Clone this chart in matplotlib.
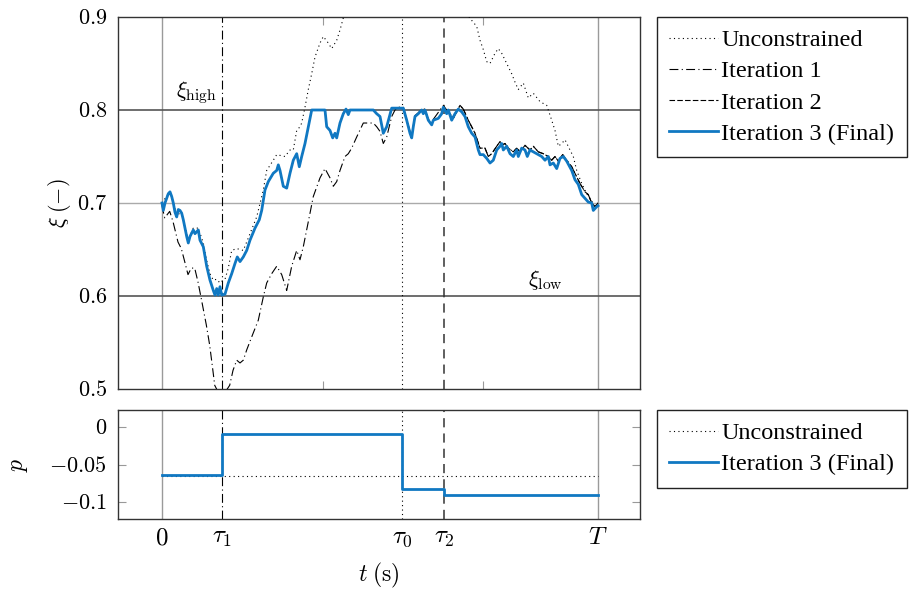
import numpy as np
import matplotlib
matplotlib.use("Agg")
import matplotlib.pyplot as plt
from matplotlib.lines import Line2D

plt.rcParams['font.family'] = ['Liberation Serif', 'DejaVu Serif']
plt.rcParams['mathtext.fontset'] = 'cm'

# ---------------- data ----------------
tau1, tau0, tau2, T = 60.0, 240.0, 282.0, 436.0
xtick_pos = [0.0, tau1, tau0, tau2, T]
xtick_lab = [r'$0$', r'$\tau_1$', r'$\tau_0$', r'$\tau_2$', r'$T$']
xi_low, xi_high = 0.6, 0.8

t_final = np.array([0, 1.3, 3, 6.3, 8, 9.7, 11.3, 13, 14.7, 16.3, 18, 19.7, 21.3, 24.7, 26.3, 28, 31.3, 33, 34.7, 36.3,
                    38, 41.3, 44.7, 48, 51.3, 53, 54.7, 56.3, 58, 59.7, 63, 66.3, 69.7, 73, 75.3, 78, 81.3, 84.7, 88,
                    93, 97.3, 99.7, 103, 106.3, 111.3, 114.7, 116.3, 118, 121.3, 124.7, 128, 131.3, 134.7, 137.3,
                    139.7, 143, 146.3, 149.7, 163, 164.7, 168, 170.7, 173, 174.7, 178, 181.3, 184, 186.3, 188, 211.3,
                    214.7, 218, 221.3, 224.7, 229.7, 241.3, 244.7, 246.3, 248, 249.7, 251.3, 253, 256.3, 259.7, 261.3,
                    263, 266.3, 269.7, 271.3, 276.3, 279.7, 281.3, 284.7, 286.3, 289.7, 293, 296.3, 299.7, 303, 306.3,
                    309.7, 313, 316.3, 318, 321.3, 324.7, 328, 331.3, 334.7, 338, 339.7, 341.3, 344.7, 348, 351.3,
                    354.7, 356.3, 359.7, 363, 365.3, 368, 371.3, 374.7, 379.7, 383, 386.3, 388, 391.3, 394.7, 398,
                    401.3, 404.7, 409.7, 413, 416.3, 419.7, 423, 426.3, 429.7, 431.3, 434.7, 436])
xi_final = np.array([0.700, 0.692, 0.700, 0.710, 0.712, 0.707, 0.700, 0.690, 0.685, 0.693, 0.692, 0.689, 0.682, 0.664,
                     0.657, 0.664, 0.671, 0.667, 0.669, 0.671, 0.660, 0.653, 0.632, 0.617, 0.606, 0.601, 0.608, 0.601,
                     0.610, 0.601, 0.602, 0.614, 0.624, 0.635, 0.642, 0.637, 0.642, 0.649, 0.660, 0.673, 0.682, 0.692,
                     0.714, 0.723, 0.732, 0.735, 0.741, 0.735, 0.718, 0.716, 0.732, 0.746, 0.753, 0.739, 0.750, 0.764,
                     0.782, 0.800, 0.800, 0.782, 0.778, 0.770, 0.775, 0.770, 0.786, 0.796, 0.801, 0.795, 0.800, 0.800,
                     0.796, 0.793, 0.775, 0.782, 0.802, 0.802, 0.789, 0.782, 0.775, 0.770, 0.782, 0.793, 0.796, 0.800,
                     0.796, 0.800, 0.789, 0.784, 0.789, 0.791, 0.796, 0.803, 0.796, 0.800, 0.789, 0.796, 0.801, 0.798,
                     0.793, 0.782, 0.775, 0.771, 0.757, 0.752, 0.752, 0.748, 0.743, 0.746, 0.757, 0.761, 0.764, 0.757,
                     0.761, 0.753, 0.750, 0.757, 0.750, 0.759, 0.757, 0.750, 0.757, 0.755, 0.753, 0.750, 0.746, 0.750,
                     0.741, 0.743, 0.737, 0.748, 0.750, 0.745, 0.735, 0.725, 0.720, 0.709, 0.705, 0.701, 0.700, 0.692,
                     0.696, 0.697])

t_uncon = np.array([0, 6.3, 8, 11.3, 14.7, 19.7, 21.3, 26.3, 31.3, 36.3, 41.3, 44.7, 48, 51.3, 54.7, 58, 60, 63, 66.3,
                    69.7, 74.7, 81.3, 88, 94.7, 101.3, 104.7, 111.3, 114.7, 123, 128, 131.3, 134.7, 138, 139.7, 143,
                    146.3, 149.7, 153, 158, 161.3, 166.3, 169.7, 174.7, 178, 181.3, 188, 208, 238, 268, 293, 310.7,
                    314.7, 318, 321.3, 324.7, 328, 333, 336.3, 339.7, 344.7, 349.7, 353, 356.3, 361.3, 366.3, 371.3,
                    378, 384.7, 386.3, 389.7, 393, 396.3, 399.7, 403, 408, 411.3, 414.7, 419.7, 424.7, 429.7, 433, 436])
xi_uncon = np.array([0.700, 0.710, 0.712, 0.701, 0.687, 0.690, 0.684, 0.660, 0.673, 0.673, 0.657, 0.638, 0.624, 0.617,
                     0.618, 0.614, 0.616, 0.618, 0.630, 0.649, 0.651, 0.649, 0.667, 0.685, 0.714, 0.735, 0.746, 0.752,
                     0.750, 0.757, 0.757, 0.778, 0.782, 0.786, 0.803, 0.822, 0.839, 0.857, 0.872, 0.879, 0.872, 0.866,
                     0.875, 0.886, 0.899, 0.915, 0.935, 0.945, 0.940, 0.920, 0.895, 0.890, 0.875, 0.865, 0.852, 0.850,
                     0.861, 0.866, 0.861, 0.850, 0.839, 0.830, 0.822, 0.829, 0.813, 0.818, 0.809, 0.805, 0.800, 0.789,
                     0.778, 0.761, 0.764, 0.768, 0.757, 0.750, 0.735, 0.721, 0.710, 0.702, 0.697, 0.700])

t_it1 = np.array([0, 1, 2.7, 7.7, 11, 16, 19.3, 22.7, 26, 29.3, 32.7, 36, 39.3, 44.3, 47.7, 51, 52.7, 56, 60, 64, 67.7,
                  71, 74.7, 78, 81.3, 84.7, 89.7, 96.3, 101.3, 104.7, 109.7, 114.7, 119.7, 124.7, 129.7, 134.7, 138,
                  141.3, 148, 151.3, 158, 163, 168, 171.3, 174.7, 178, 183, 186.3, 189.7, 194.7, 201.3, 208, 211.3,
                  214.7, 218, 221.3, 224.7, 229.7, 233,
                  236, 241.3, 244.7, 248, 249.7, 251.3, 253, 256.3, 259.7, 263, 266.3, 269.7, 271.3, 274.7, 281.3,
                  284.7, 288, 291.3, 298, 301.3, 306.3, 309.7, 313, 318, 323, 326.3, 329.7, 334.7, 338, 339.7, 343,
                  346.3, 351.3, 354.7, 358, 363, 368, 371.3, 376.3, 381.3, 386.3, 389.7, 393, 396.3, 400.7, 404.7,
                  409.7, 414.7, 418, 423, 426.3, 429.7, 433, 436])
xi_it1 = np.array([0.698, 0.692, 0.684, 0.691, 0.680, 0.658, 0.651, 0.637, 0.623, 0.630, 0.630, 0.615, 0.597, 0.569,
                   0.547, 0.519, 0.504, 0.497, 0.495, 0.498, 0.504, 0.520, 0.531, 0.528, 0.531, 0.542, 0.556, 0.574,
                   0.599, 0.614, 0.624, 0.632, 0.623, 0.606, 0.632, 0.649, 0.639, 0.653, 0.689, 0.707, 0.727, 0.737,
                   0.727, 0.718, 0.723, 0.735, 0.750, 0.753, 0.759, 0.771, 0.786, 0.786, 0.786, 0.782, 0.777, 0.764,
                   0.771, 0.793, 0.800,
                   0.803, 0.803, 0.790, 0.777, 0.772, 0.783, 0.794, 0.797, 0.801, 0.801, 0.790, 0.786, 0.790, 0.795,
                   0.805, 0.800, 0.796, 0.791, 0.805, 0.801, 0.789, 0.782, 0.775, 0.759, 0.759, 0.750, 0.753, 0.761,
                   0.766, 0.762, 0.764, 0.759, 0.755, 0.759, 0.755, 0.762, 0.757, 0.761, 0.755, 0.753, 0.750, 0.746,
                   0.750, 0.745, 0.752, 0.746, 0.739, 0.728, 0.721, 0.712, 0.709, 0.700, 0.696, 0.700])

t_it2_tail = np.array([284.7, 288, 291.3, 298, 301.3, 306.3, 309.7, 313, 318, 323, 326.3, 329.7, 334.7, 338, 339.7,
                       343, 346.3, 351.3, 354.7, 358, 363, 368, 371.3, 376.3, 381.3, 386.3, 389.7, 393, 396.3, 400.7,
                       404.7, 409.7, 414.7, 418, 423, 426.3, 429.7, 433, 436])
xi_it2_tail = np.array([0.800, 0.796, 0.791, 0.805, 0.801, 0.789, 0.782, 0.775, 0.759, 0.759, 0.750, 0.753, 0.761,
                        0.766, 0.762, 0.764, 0.759, 0.755, 0.759, 0.755, 0.762, 0.757, 0.761, 0.755, 0.753, 0.750,
                        0.746, 0.750, 0.745, 0.752, 0.746, 0.739, 0.728, 0.721, 0.712, 0.709, 0.700, 0.696, 0.700])
# Iteration 2 coincides with the final trajectory up to tau2
t_it2 = np.concatenate([t_final[t_final <= tau2], t_it2_tail])
xi_it2 = np.concatenate([xi_final[t_final <= tau2], xi_it2_tail])

# costate p (piecewise constant)
t_p = [0.0, tau1, tau0, tau2, T]
p_final = [-0.064, -0.009, -0.083, -0.091, -0.091]
p_uncon = -0.066

# ---------------- figure ----------------
W, H = 911, 589
fig = plt.figure(figsize=(W / 100, H / 100), dpi=100)
ax1 = fig.add_axes([118 / W, 1 - 389 / H, 522 / W, 372 / H])
ax2 = fig.add_axes([118 / W, 1 - 519 / H, 522 / W, 109 / H])

blue = '#1078C2'
FS = 16

for ax in (ax1, ax2):
    ax.set_xlim(-44, 478)
    for s in ax.spines.values():
        s.set_color('#333333')
        s.set_linewidth(1.0)
    for xv in (0.0, T):
        ax.axvline(xv, color='#9a9a9a', lw=1.0, zorder=1)
    ax.axvline(tau1, color='black', lw=0.8, ls=(0, (8, 3, 1, 3)), zorder=2)
    ax.axvline(tau0, color='black', lw=0.8, ls=(0, (1, 3)), zorder=2)
    ax.axvline(tau2, color='#333333', lw=1.1, ls=(0, (6, 4)), zorder=2)

# top panel
ax1.set_ylim(0.5, 0.9)
ax1.axhline(0.7, color='#aaaaaa', lw=1.0, zorder=1)
ax1.axhline(xi_low, color='#555555', lw=1.2, zorder=1)
ax1.axhline(xi_high, color='#555555', lw=1.2, zorder=1)
ax1.plot(t_uncon, xi_uncon, color='black', lw=0.8, ls=(0, (1, 3)), zorder=3)
ax1.plot(t_it1, xi_it1, color='black', lw=0.8, ls=(0, (8, 3, 1, 3)), zorder=3)
ax1.plot(t_it2, xi_it2, color='black', lw=0.8, ls=(0, (5, 2)), zorder=3)
ax1.plot(t_final, xi_final, color=blue, lw=2.0, zorder=4)
ax1.set_yticks([0.5, 0.6, 0.7, 0.8, 0.9])
ax1.set_yticklabels([r'$0.5$', r'$0.6$', r'$0.7$', r'$0.8$', r'$0.9$'], fontsize=FS)
ax1.set_xticks([161, 321])
ax1.tick_params(axis='x', which='both', direction='in', top=True, bottom=True, length=6, color='#999999',
                labelbottom=False)
ax1.tick_params(axis='y', direction='in', left=True, right=True, length=0, pad=8)
ax1.set_ylabel(r'$\xi\;(-)$', fontsize=FS)
ax1.yaxis.set_label_coords(-0.086, 0.5)
ax1.text(14, 0.819, r'$\xi_{\mathrm{high}}$', fontsize=FS, va='center', ha='left')
ax1.text(366, 0.617, r'$\xi_{\mathrm{low}}$', fontsize=FS, va='center', ha='left')

# bottom panel
ax2.set_ylim(-0.1235, 0.0235)
ax2.hlines(p_uncon, 0, T, color='black', lw=0.8, linestyles=[(0, (1, 3))], zorder=3)
ax2.step(t_p, p_final, where='post', color=blue, lw=2.0, zorder=4)
ax2.set_yticks([-0.1, -0.05, 0.0])
ax2.set_yticklabels([r'$-0.1$', r'$-0.05$', r'$0$'], fontsize=FS)
ax2.tick_params(axis='y', direction='in', left=True, right=True, length=6, color='#999999', pad=8)
ax2.set_xticks(xtick_pos)
ax2.set_xticklabels(xtick_lab, fontsize=FS + 2)
ax2.tick_params(axis='x', length=0, pad=6)
ax2.set_ylabel(r'$p$', fontsize=FS + 1)
ax2.yaxis.set_label_coords(-0.168, 0.5)
ax2.set_xlabel(r'$t\;(\mathrm{s})$', fontsize=FS + 1, labelpad=8)

# legends
h_unc = Line2D([], [], color='black', lw=0.8, ls=(0, (1, 3)))
h_it1 = Line2D([], [], color='black', lw=0.8, ls=(0, (8, 3, 1, 3)))
h_it2 = Line2D([], [], color='black', lw=0.8, ls=(0, (5, 2)))
h_fin = Line2D([], [], color=blue, lw=2.0)
leg_kw = dict(loc='upper left', bbox_transform=fig.transFigure, borderaxespad=0, fancybox=False,
              edgecolor='#222222', framealpha=1, fontsize=17.5, handlelength=2.0, handletextpad=0.15,
              labelspacing=0.38, borderpad=0.5)
leg1 = fig.legend([h_unc, h_it1, h_it2, h_fin], ['Unconstrained', 'Iteration 1', 'Iteration 2', 'Iteration 3 (Final)'],
                  bbox_to_anchor=(657 / W, 1 - 17 / H), **leg_kw)
leg1.get_frame().set_linewidth(1.0)
leg2 = fig.legend([h_unc, h_fin], ['Unconstrained', 'Iteration 3 (Final)'],
                  bbox_to_anchor=(657 / W, 1 - 410 / H), **leg_kw)
leg2.get_frame().set_linewidth(1.0)

fig.savefig('out.png', dpi=100)
